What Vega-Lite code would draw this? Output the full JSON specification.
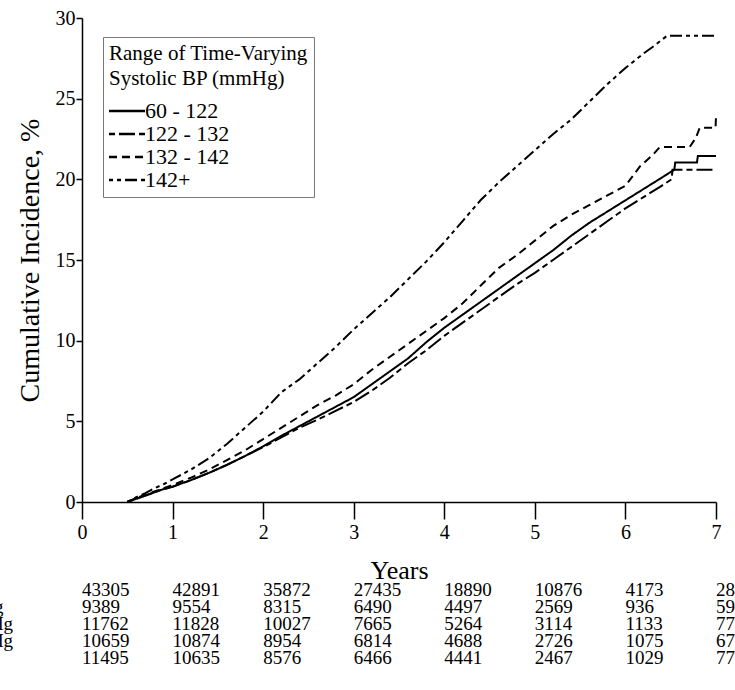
{
  "$schema": "https://vega.github.io/schema/vega-lite/v6.json",
  "autosize": {"type": "none"},
  "padding": {"left": 82, "top": 18, "right": 653, "bottom": 672},
  "background": "white",
  "bounds": "flush",
  "spacing": 79,
  "config": {
    "font": "Liberation Serif",
    "view": {"stroke": null},
    "axis": {"domainColor": "black", "tickColor": "black", "labelColor": "black", "titleColor": "black", "labelFontSize": 20, "titleFontWeight": "normal", "grid": false, "domainWidth": 1.5, "tickWidth": 1.5, "labelFont": "Liberation Serif", "titleFont": "Liberation Serif"}
  },
  "datasets": {
    "curves": [
      {"grp": "60 - 122", "t": 0.5, "v": 0}, {"grp": "60 - 122", "t": 0.6, "v": 0.2}, {"grp": "60 - 122", "t": 0.7, "v": 0.4}, {"grp": "60 - 122", "t": 0.8, "v": 0.6}, {"grp": "60 - 122", "t": 0.9, "v": 0.8}, {"grp": "60 - 122", "t": 1.0, "v": 0.95}, {"grp": "60 - 122", "t": 1.2, "v": 1.35}, {"grp": "60 - 122", "t": 1.4, "v": 1.8}, {"grp": "60 - 122", "t": 1.6, "v": 2.3}, {"grp": "60 - 122", "t": 1.8, "v": 2.85}, {"grp": "60 - 122", "t": 2.0, "v": 3.45}, {"grp": "60 - 122", "t": 2.2, "v": 4.1}, {"grp": "60 - 122", "t": 2.4, "v": 4.7}, {"grp": "60 - 122", "t": 2.6, "v": 5.3}, {"grp": "60 - 122", "t": 2.8, "v": 5.9}, {"grp": "60 - 122", "t": 3.0, "v": 6.5}, {"grp": "60 - 122", "t": 3.2, "v": 7.3}, {"grp": "60 - 122", "t": 3.4, "v": 8.1}, {"grp": "60 - 122", "t": 3.6, "v": 8.9}, {"grp": "60 - 122", "t": 3.8, "v": 9.9}, {"grp": "60 - 122", "t": 4.0, "v": 10.8}, {"grp": "60 - 122", "t": 4.2, "v": 11.6}, {"grp": "60 - 122", "t": 4.4, "v": 12.4}, {"grp": "60 - 122", "t": 4.6, "v": 13.2}, {"grp": "60 - 122", "t": 4.8, "v": 14.0}, {"grp": "60 - 122", "t": 5.0, "v": 14.8}, {"grp": "60 - 122", "t": 5.2, "v": 15.6}, {"grp": "60 - 122", "t": 5.4, "v": 16.5}, {"grp": "60 - 122", "t": 5.6, "v": 17.3}, {"grp": "60 - 122", "t": 5.8, "v": 18.0}, {"grp": "60 - 122", "t": 6.0, "v": 18.7}, {"grp": "60 - 122", "t": 6.2, "v": 19.4}, {"grp": "60 - 122", "t": 6.4, "v": 20.1}, {"grp": "60 - 122", "t": 6.54, "v": 20.6}, {"grp": "60 - 122", "t": 6.55, "v": 21.05}, {"grp": "60 - 122", "t": 6.79, "v": 21.05}, {"grp": "60 - 122", "t": 6.8, "v": 21.45}, {"grp": "60 - 122", "t": 7.0, "v": 21.45},
      {"grp": "122 - 132", "t": 0.5, "v": 0}, {"grp": "122 - 132", "t": 0.6, "v": 0.2}, {"grp": "122 - 132", "t": 0.7, "v": 0.4}, {"grp": "122 - 132", "t": 0.8, "v": 0.6}, {"grp": "122 - 132", "t": 0.9, "v": 0.8}, {"grp": "122 - 132", "t": 1.0, "v": 0.95}, {"grp": "122 - 132", "t": 1.2, "v": 1.35}, {"grp": "122 - 132", "t": 1.4, "v": 1.8}, {"grp": "122 - 132", "t": 1.6, "v": 2.3}, {"grp": "122 - 132", "t": 1.8, "v": 2.85}, {"grp": "122 - 132", "t": 2.0, "v": 3.4}, {"grp": "122 - 132", "t": 2.2, "v": 4.0}, {"grp": "122 - 132", "t": 2.4, "v": 4.6}, {"grp": "122 - 132", "t": 2.6, "v": 5.1}, {"grp": "122 - 132", "t": 2.8, "v": 5.65}, {"grp": "122 - 132", "t": 3.0, "v": 6.2}, {"grp": "122 - 132", "t": 3.2, "v": 6.9}, {"grp": "122 - 132", "t": 3.4, "v": 7.7}, {"grp": "122 - 132", "t": 3.6, "v": 8.6}, {"grp": "122 - 132", "t": 3.8, "v": 9.4}, {"grp": "122 - 132", "t": 4.0, "v": 10.3}, {"grp": "122 - 132", "t": 4.2, "v": 11.1}, {"grp": "122 - 132", "t": 4.4, "v": 11.9}, {"grp": "122 - 132", "t": 4.6, "v": 12.7}, {"grp": "122 - 132", "t": 4.8, "v": 13.5}, {"grp": "122 - 132", "t": 5.0, "v": 14.2}, {"grp": "122 - 132", "t": 5.2, "v": 15.0}, {"grp": "122 - 132", "t": 5.4, "v": 15.8}, {"grp": "122 - 132", "t": 5.6, "v": 16.6}, {"grp": "122 - 132", "t": 5.8, "v": 17.4}, {"grp": "122 - 132", "t": 6.0, "v": 18.2}, {"grp": "122 - 132", "t": 6.2, "v": 18.9}, {"grp": "122 - 132", "t": 6.4, "v": 19.6}, {"grp": "122 - 132", "t": 6.51, "v": 20.0}, {"grp": "122 - 132", "t": 6.52, "v": 20.6}, {"grp": "122 - 132", "t": 7.0, "v": 20.6},
      {"grp": "132 - 142", "t": 0.5, "v": 0}, {"grp": "132 - 142", "t": 0.6, "v": 0.25}, {"grp": "132 - 142", "t": 0.7, "v": 0.45}, {"grp": "132 - 142", "t": 0.8, "v": 0.65}, {"grp": "132 - 142", "t": 0.9, "v": 0.85}, {"grp": "132 - 142", "t": 1.0, "v": 1.05}, {"grp": "132 - 142", "t": 1.2, "v": 1.5}, {"grp": "132 - 142", "t": 1.4, "v": 2.0}, {"grp": "132 - 142", "t": 1.6, "v": 2.6}, {"grp": "132 - 142", "t": 1.8, "v": 3.2}, {"grp": "132 - 142", "t": 2.0, "v": 3.9}, {"grp": "132 - 142", "t": 2.2, "v": 4.6}, {"grp": "132 - 142", "t": 2.4, "v": 5.3}, {"grp": "132 - 142", "t": 2.6, "v": 6.0}, {"grp": "132 - 142", "t": 2.8, "v": 6.6}, {"grp": "132 - 142", "t": 3.0, "v": 7.3}, {"grp": "132 - 142", "t": 3.2, "v": 8.2}, {"grp": "132 - 142", "t": 3.4, "v": 9.0}, {"grp": "132 - 142", "t": 3.6, "v": 9.8}, {"grp": "132 - 142", "t": 3.8, "v": 10.6}, {"grp": "132 - 142", "t": 4.0, "v": 11.4}, {"grp": "132 - 142", "t": 4.2, "v": 12.3}, {"grp": "132 - 142", "t": 4.4, "v": 13.4}, {"grp": "132 - 142", "t": 4.6, "v": 14.5}, {"grp": "132 - 142", "t": 4.8, "v": 15.3}, {"grp": "132 - 142", "t": 5.0, "v": 16.2}, {"grp": "132 - 142", "t": 5.2, "v": 17.1}, {"grp": "132 - 142", "t": 5.4, "v": 17.8}, {"grp": "132 - 142", "t": 5.6, "v": 18.4}, {"grp": "132 - 142", "t": 5.8, "v": 19.0}, {"grp": "132 - 142", "t": 6.0, "v": 19.6}, {"grp": "132 - 142", "t": 6.16, "v": 20.8}, {"grp": "132 - 142", "t": 6.3, "v": 21.5}, {"grp": "132 - 142", "t": 6.38, "v": 22.0}, {"grp": "132 - 142", "t": 6.71, "v": 22.0}, {"grp": "132 - 142", "t": 6.78, "v": 22.6}, {"grp": "132 - 142", "t": 6.82, "v": 23.2}, {"grp": "132 - 142", "t": 6.995, "v": 23.2}, {"grp": "132 - 142", "t": 7.0, "v": 23.9},
      {"grp": "142+", "t": 0.5, "v": 0}, {"grp": "142+", "t": 0.6, "v": 0.3}, {"grp": "142+", "t": 0.7, "v": 0.55}, {"grp": "142+", "t": 0.8, "v": 0.85}, {"grp": "142+", "t": 0.9, "v": 1.1}, {"grp": "142+", "t": 1.0, "v": 1.4}, {"grp": "142+", "t": 1.2, "v": 2.0}, {"grp": "142+", "t": 1.4, "v": 2.7}, {"grp": "142+", "t": 1.6, "v": 3.6}, {"grp": "142+", "t": 1.8, "v": 4.6}, {"grp": "142+", "t": 2.0, "v": 5.6}, {"grp": "142+", "t": 2.2, "v": 6.8}, {"grp": "142+", "t": 2.4, "v": 7.6}, {"grp": "142+", "t": 2.6, "v": 8.6}, {"grp": "142+", "t": 2.8, "v": 9.6}, {"grp": "142+", "t": 3.0, "v": 10.7}, {"grp": "142+", "t": 3.2, "v": 11.7}, {"grp": "142+", "t": 3.4, "v": 12.7}, {"grp": "142+", "t": 3.6, "v": 13.8}, {"grp": "142+", "t": 3.8, "v": 14.9}, {"grp": "142+", "t": 4.0, "v": 16.1}, {"grp": "142+", "t": 4.2, "v": 17.4}, {"grp": "142+", "t": 4.4, "v": 18.7}, {"grp": "142+", "t": 4.6, "v": 19.8}, {"grp": "142+", "t": 4.8, "v": 20.8}, {"grp": "142+", "t": 5.0, "v": 21.8}, {"grp": "142+", "t": 5.2, "v": 22.8}, {"grp": "142+", "t": 5.4, "v": 23.7}, {"grp": "142+", "t": 5.6, "v": 24.8}, {"grp": "142+", "t": 5.8, "v": 25.9}, {"grp": "142+", "t": 6.0, "v": 26.9}, {"grp": "142+", "t": 6.2, "v": 27.8}, {"grp": "142+", "t": 6.3, "v": 28.2}, {"grp": "142+", "t": 6.46, "v": 28.9}, {"grp": "142+", "t": 7.0, "v": 28.9}
    ],
    "risk": [
      {"row": "All Patients", "t": 0, "n": 43305}, {"row": "All Patients", "t": 1, "n": 42891}, {"row": "All Patients", "t": 2, "n": 35872}, {"row": "All Patients", "t": 3, "n": 27435}, {"row": "All Patients", "t": 4, "n": 18890}, {"row": "All Patients", "t": 5, "n": 10876}, {"row": "All Patients", "t": 6, "n": 4173}, {"row": "All Patients", "t": 7, "n": 2814},
      {"row": "60 - 122 mmHg", "t": 0, "n": 9389}, {"row": "60 - 122 mmHg", "t": 1, "n": 9554}, {"row": "60 - 122 mmHg", "t": 2, "n": 8315}, {"row": "60 - 122 mmHg", "t": 3, "n": 6490}, {"row": "60 - 122 mmHg", "t": 4, "n": 4497}, {"row": "60 - 122 mmHg", "t": 5, "n": 2569}, {"row": "60 - 122 mmHg", "t": 6, "n": 936}, {"row": "60 - 122 mmHg", "t": 7, "n": 593},
      {"row": "122 - 132 mmHg", "t": 0, "n": 11762}, {"row": "122 - 132 mmHg", "t": 1, "n": 11828}, {"row": "122 - 132 mmHg", "t": 2, "n": 10027}, {"row": "122 - 132 mmHg", "t": 3, "n": 7665}, {"row": "122 - 132 mmHg", "t": 4, "n": 5264}, {"row": "122 - 132 mmHg", "t": 5, "n": 3114}, {"row": "122 - 132 mmHg", "t": 6, "n": 1133}, {"row": "122 - 132 mmHg", "t": 7, "n": 776},
      {"row": "132 - 142 mmHg", "t": 0, "n": 10659}, {"row": "132 - 142 mmHg", "t": 1, "n": 10874}, {"row": "132 - 142 mmHg", "t": 2, "n": 8954}, {"row": "132 - 142 mmHg", "t": 3, "n": 6814}, {"row": "132 - 142 mmHg", "t": 4, "n": 4688}, {"row": "132 - 142 mmHg", "t": 5, "n": 2726}, {"row": "132 - 142 mmHg", "t": 6, "n": 1075}, {"row": "132 - 142 mmHg", "t": 7, "n": 674},
      {"row": "142+ mmHg", "t": 0, "n": 11495}, {"row": "142+ mmHg", "t": 1, "n": 10635}, {"row": "142+ mmHg", "t": 2, "n": 8576}, {"row": "142+ mmHg", "t": 3, "n": 6466}, {"row": "142+ mmHg", "t": 4, "n": 4441}, {"row": "142+ mmHg", "t": 5, "n": 2467}, {"row": "142+ mmHg", "t": 6, "n": 1029}, {"row": "142+ mmHg", "t": 7, "n": 771}
    ],
    "rows": [
      {"row": "All Patients"}, {"row": "60 - 122 mmHg"}, {"row": "122 - 132 mmHg"}, {"row": "132 - 142 mmHg"}, {"row": "142+ mmHg"}
    ]
  },
  "vconcat": [
    {
      "width": 634,
      "height": 484,
      "data": {"name": "curves"},
      "mark": {"type": "line", "color": "black", "strokeWidth": 2, "clip": false},
      "encoding": {
        "x": {"field": "t", "type": "quantitative", "scale": {"domain": [0, 7], "nice": false, "zero": false},
          "axis": {"values": [0, 1, 2, 3, 4, 5, 6, 7], "format": "d", "tickSize": 17, "labelPadding": 3, "labelFlush": false, "title": "Years", "titleFontSize": 26, "titlePadding": 15}},
        "y": {"field": "v", "type": "quantitative", "scale": {"domain": [0, 30], "nice": false},
          "axis": {"values": [0, 5, 10, 15, 20, 25, 30], "tickSize": 6, "labelPadding": 1, "title": "Cumulative Incidence, %", "titleFontSize": 28, "titlePadding": 11}},
        "strokeDash": {"field": "grp", "type": "nominal",
          "scale": {"domain": ["60 - 122", "122 - 132", "132 - 142", "142+"], "range": [[1, 0], [6, 4, 16, 4], [8, 5], [4, 4, 4, 4, 12, 4]]},
          "legend": {"orient": "none", "legendX": 21, "legendY": 19, "title": ["Range of Time-Varying", "Systolic BP (mmHg)"], "titleFontSize": 21, "titleFontWeight": "normal", "titleLineHeight": 25, "titleLimit": 400, "titleFont": "Liberation Serif", "titleColor": "black", "titlePadding": 11, "labelFontSize": 22, "labelFont": "Liberation Serif", "labelColor": "black", "labelOffset": 7, "symbolType": "M-2,0L2,0", "symbolSize": 324, "symbolOffset": 7, "symbolStrokeWidth": 2.5, "symbolStrokeColor": "black", "strokeColor": "#777", "fillColor": "white", "padding": 6, "rowPadding": 1}
        }
      }
    },
    {
      "width": 634,
      "height": 85,
      "layer": [
        {
          "data": {"name": "risk"},
          "mark": {"type": "text", "align": "left", "baseline": "middle", "fontSize": 19, "font": "Liberation Serif", "color": "black"},
          "encoding": {
            "x": {"field": "t", "type": "quantitative", "scale": {"domain": [0, 7], "nice": false, "zero": false}, "axis": null},
            "y": {"field": "row", "type": "ordinal", "sort": ["All Patients", "60 - 122 mmHg", "122 - 132 mmHg", "132 - 142 mmHg", "142+ mmHg"], "axis": null},
            "text": {"field": "n", "type": "quantitative", "format": "d"}
          }
        },
        {
          "data": {"name": "rows"},
          "mark": {"type": "text", "align": "left", "baseline": "middle", "fontSize": 19, "font": "Liberation Serif", "color": "black"},
          "encoding": {
            "x": {"datum": -2.2, "type": "quantitative"},
            "y": {"field": "row", "type": "ordinal", "sort": ["All Patients", "60 - 122 mmHg", "122 - 132 mmHg", "132 - 142 mmHg", "142+ mmHg"], "axis": null},
            "text": {"field": "row", "type": "nominal"}
          }
        }
      ]
    }
  ]
}
